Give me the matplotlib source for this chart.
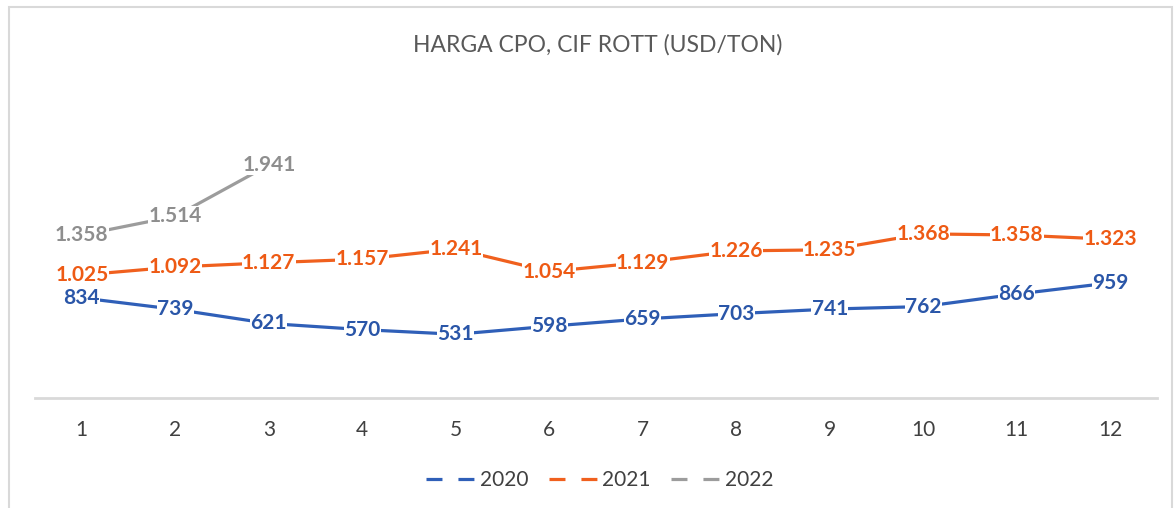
import matplotlib
matplotlib.use("Agg")
import matplotlib.pyplot as plt
from matplotlib.lines import Line2D
from matplotlib.patches import Rectangle

plt.rcParams['font.family'] = ['Lato', 'DejaVu Sans']

# data
months = [1, 2, 3, 4, 5, 6, 7, 8, 9, 10, 11, 12]
y2020 = [834, 739, 621, 570, 531, 598, 659, 703, 741, 762, 866, 959]
y2021 = [1025, 1092, 1127, 1157, 1241, 1054, 1129, 1226, 1235, 1368, 1358, 1323]
y2022 = [1358, 1514, 1941]
series_names = ['2020', '2021', '2022']
colors = ['#2F5FB8', '#F0601E', '#9C9C9C']
label_colors = ['#2A56A8', '#EE5A14', '#8E8E8E']


def fmt(v):
    return f"{v:,}".replace(',', '.')


fig = plt.figure(figsize=(11.76, 5.08), dpi=100)
ax = fig.add_axes([35/1176, 1 - 398/508, (1157 - 35)/1176, 300/508])

all_series = [y2020, y2021, y2022]
for vals, c, lc in zip(all_series, colors, label_colors):
    xs = months[:len(vals)]
    ax.plot(xs, vals, color=c, lw=2.3, solid_capstyle='round', zorder=2)
    for x, v in zip(xs, vals):
        ax.text(x, v, fmt(v), ha='center', va='center', fontsize=15,
                fontweight='bold', color=lc, zorder=3,
                bbox=dict(facecolor='white', edgecolor='none', pad=0.2))

ax.set_xlim(0.5, 12.5)
ax.set_ylim(0, 2500)
ax.set_yticks([])
ax.set_xticks(months)
ax.set_xticklabels([str(m) for m in months], fontsize=15, color='#404040')
ax.tick_params(axis='x', length=0, pad=16)
for s in ['top', 'right', 'left']:
    ax.spines[s].set_visible(False)
ax.spines['bottom'].set_color('#D9D9D9')
ax.spines['bottom'].set_linewidth(2)

fig.text(0.508, 0.911, 'HARGA CPO, CIF ROTT (USD/TON)', ha='center', va='center',
         fontsize=16.5, color='#595959')

handles = [Line2D([0], [0], color=c, lw=2.3, dashes=(5, 5)) for c in colors]
fig.legend(handles, series_names, loc='center', bbox_to_anchor=(0.51, 0.055),
           ncol=3, frameon=False, fontsize=15, handlelength=2.4,
           columnspacing=1.0, handletextpad=0.15, labelcolor='#404040')

fig.patches.append(Rectangle((9/1176, -0.05), (1172 - 9)/1176, 1 - 7/508 + 0.05,
                             transform=fig.transFigure, fill=False,
                             edgecolor='#D9D9D9', lw=1.5))

fig.savefig('out.png', dpi=100)
